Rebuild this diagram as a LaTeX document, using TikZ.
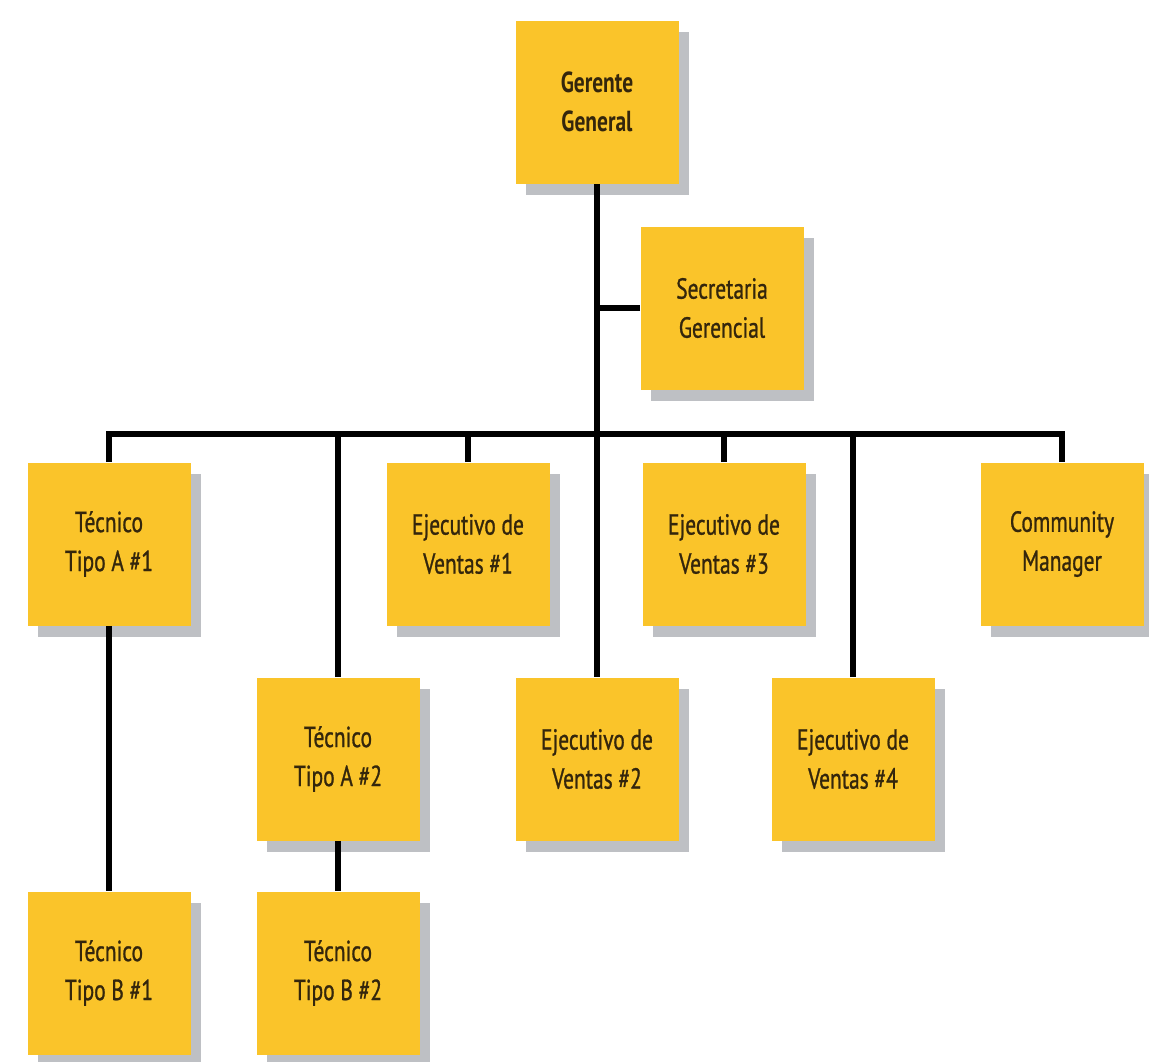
\documentclass[tikz,border=0pt]{standalone}
\usepackage{fontspec}
\setmainfont{PT Sans}[FakeStretch=0.74, FakeBold=0.9, BoldFeatures={FakeBold=0}]
\usetikzlibrary{shadows}
\definecolor{boxyellow}{RGB}{250,196,42}
\definecolor{boxtext}{RGB}{52,38,12}
\definecolor{boxshadow}{RGB}{190,192,196}

\begin{document}
\begin{tikzpicture}[x=0.5pt, y=-0.5pt,
   box/.style={fill=boxyellow, minimum width=81.5pt, minimum height=81.5pt, inner sep=0pt,
     align=center, text=boxtext, font=\fontsize{14.5}{19.5}\selectfont,
     drop shadow={shadow xshift=5pt, shadow yshift=-5.5pt, fill=boxshadow, opacity=1}},
   link/.style={line width=2.6pt, black}]
   \useasboundingbox (0,0) rectangle (1149,1061);
   \node[box] (gg) at (597,102) {\textbf{Gerente}\\\textbf{General}};
   \node[box] (sec) at (722,308) {Secretaria\\Gerencial};
   \node[box] (ta1) at (109,544) {Técnico\\Tipo A \#1};
   \node[box] (e1) at (468,544) {Ejecutivo de\\Ventas \#1};
   \node[box] (e3) at (724,544) {Ejecutivo de\\Ventas \#3};
   \node[box] (cm) at (1062,544) {Community\\Manager};
   \node[box] (ta2) at (338,759) {Técnico\\Tipo A \#2};
   \node[box] (e2) at (597,759) {Ejecutivo de\\Ventas \#2};
   \node[box] (e4) at (853,759) {Ejecutivo de\\Ventas \#4};
   \node[box] (tb1) at (109,973) {Técnico\\Tipo B \#1};
   \node[box] (tb2) at (338,973) {Técnico\\Tipo B \#2};
   \coordinate (bus) at (597,434);
   \draw[link] (gg.south) -- (e2.north);
   \draw[link] (sec.west) -- (sec.west -| gg.south);
   \draw[link] (ta1.north) |- (bus) -| (cm.north);
   \foreach \n in {ta2,e1,e3,e4}
     \draw[link] (\n.north) -- (\n.north |- bus);
   \draw[link] (ta1.south) -- (tb1.north);
   \draw[link] (ta2.south) -- (tb2.north);
\end{tikzpicture}
\end{document}
